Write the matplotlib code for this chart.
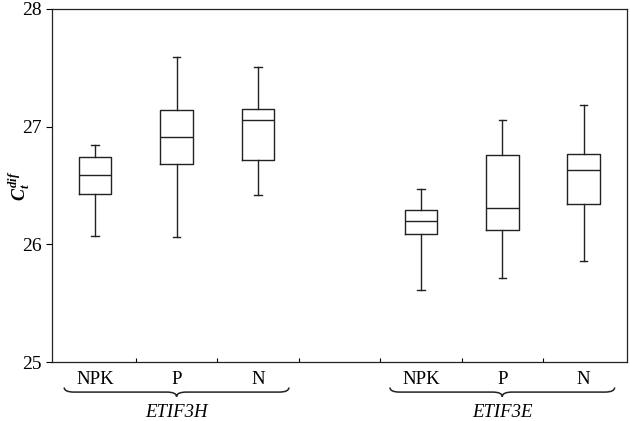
import matplotlib

matplotlib.use("Agg")
import matplotlib.pyplot as plt
from matplotlib.path import Path
from matplotlib.patches import PathPatch

plt.rcParams["font.family"] = ["Liberation Serif", "DejaVu Serif"]
plt.rcParams["mathtext.fontset"] = "custom"
plt.rcParams["mathtext.it"] = "Liberation Serif:italic:bold"
plt.rcParams["mathtext.rm"] = "Liberation Serif"

# box statistics
treatments = ["NPK", "P", "N", "NPK", "P", "N"]
genes = ["ETIF3H", "ETIF3E"]
positions = [1, 2, 3, 5, 6, 7]
whislo = [26.07, 26.06, 26.42, 25.61, 25.71, 25.86]
q1 = [26.43, 26.68, 26.72, 26.09, 26.12, 26.34]
med = [26.59, 26.91, 27.06, 26.20, 26.31, 26.63]
q3 = [26.74, 27.14, 27.15, 26.29, 26.76, 26.77]
whishi = [26.84, 27.59, 27.51, 26.47, 27.06, 27.18]
gene_centers = [2, 6]
yticks = [25, 26, 27, 28]

stats = [
    {"whislo": a, "q1": b, "med": c, "q3": d, "whishi": e, "fliers": []}
    for a, b, c, d, e in zip(whislo, q1, med, q3, whishi)
]

fig = plt.figure(figsize=(6.3, 4.21), dpi=100)
ax = fig.add_axes([0.0825, 0.140, 0.9125, 0.839])

line = dict(color="#222222", linewidth=1.0)
ax.bxp(
    stats,
    positions=positions,
    widths=0.4,
    showfliers=False,
    boxprops=line,
    whiskerprops=line,
    capprops=line,
    medianprops=line,
    capwidths=0.09,
)

ax.set_xlim(0.47, 7.53)
ax.set_ylim(25, 28)
ax.set_yticks(yticks)
ax.tick_params(axis="y", direction="out", length=4, labelsize=14, width=0.8)
ax.set_xticks([1.5, 2.5, 3.5, 4.5, 5.5, 6.5])
ax.set_xticklabels([])
ax.tick_params(axis="x", direction="in", length=3, width=0.8)
for s in ax.spines.values():
    s.set_linewidth(0.9)
    s.set_color("#222222")

xt = ax.get_xaxis_transform()
for p, t in zip(positions, treatments):
    ax.text(p, -0.025, t, transform=xt, ha="center", va="top", fontsize=13.5)


def brace(ax, xc, half, y0, depth):
    x0, x1 = xc - half, xc + half
    r = 0.12
    ym = y0 - depth / 2
    verts = [
        (x0, y0), (x0, ym), (x0 + r, ym),
        (xc - r, ym), (xc, ym), (xc, y0 - depth),
        (xc, ym), (xc + r, ym),
        (x1 - r, ym), (x1, ym), (x1, y0),
    ]
    codes = [
        Path.MOVETO, Path.CURVE3, Path.CURVE3,
        Path.LINETO, Path.CURVE3, Path.CURVE3,
        Path.CURVE3, Path.CURVE3,
        Path.LINETO, Path.CURVE3, Path.CURVE3,
    ]
    patch = PathPatch(Path(verts, codes), transform=ax.get_xaxis_transform(),
                      fill=False, lw=1.1, color="#222222", clip_on=False)
    ax.add_patch(patch)


for c, g in zip(gene_centers, genes):
    brace(ax, c, 1.38, -0.072, 0.026)
    ax.text(c, -0.118, g, transform=xt, ha="center", va="top", fontsize=13.5, style="italic")

ax.set_ylabel(r"$\mathit{C_t^{dif}}$", fontsize=13)
ax.yaxis.set_label_coords(-0.035, 0.5)

fig.savefig("out.png", dpi=100)
